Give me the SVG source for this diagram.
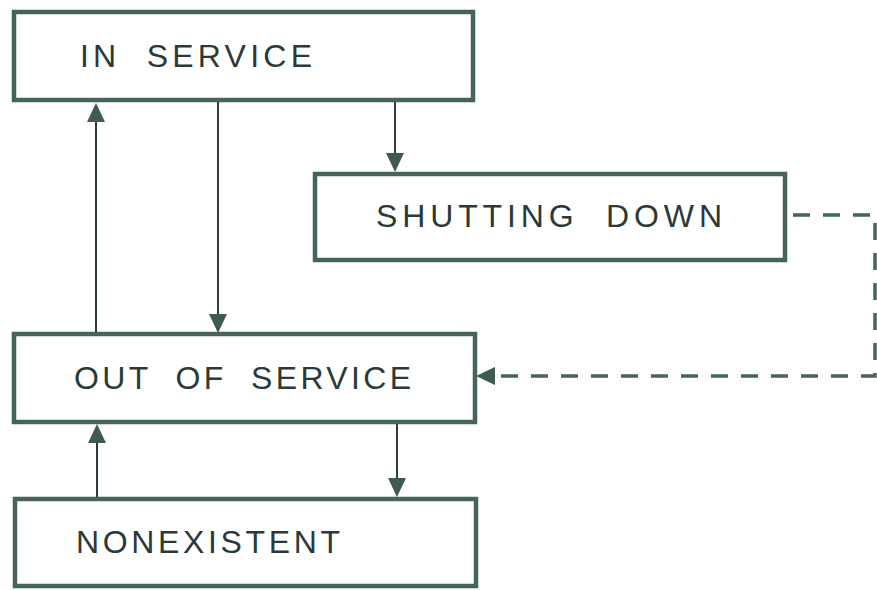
<svg xmlns="http://www.w3.org/2000/svg" width="877" height="590" viewBox="0 0 877 590">
<style>
.box{fill:#ffffff;stroke:#46645c;stroke-width:4.5}
.lbl{font-family:"Liberation Sans","DejaVu Sans",sans-serif;font-size:32px;fill:#2b3a36;white-space:pre}
.con{fill:none;stroke:#2f3d39;stroke-width:2}
.dash{fill:none;stroke:#46645c;stroke-width:3.5;stroke-dasharray:17 13}
</style>
<defs>
<marker id="ah" markerUnits="userSpaceOnUse" markerWidth="20" markerHeight="18" refX="0" refY="9" orient="auto">
<path d="M0,0 L19,9 L0,18 z" fill="#3f5a53"/>
</marker>
</defs>
<rect width="877" height="590" fill="#ffffff"/>
<g id="in-service">
<rect class="box" x="14" y="12" width="459" height="88"/>
<text class="lbl" xml:space="preserve" x="80" y="67" textLength="232" lengthAdjust="spacing">IN  SERVICE</text>
</g>
<g id="shutting-down">
<rect class="box" x="315" y="174" width="470" height="86"/>
<text class="lbl" xml:space="preserve" x="376" y="227" textLength="346" lengthAdjust="spacing">SHUTTING  DOWN</text>
</g>
<g id="out-of-service">
<rect class="box" x="14" y="334" width="461" height="88"/>
<text class="lbl" xml:space="preserve" x="74" y="389" textLength="337" lengthAdjust="spacing">OUT  OF  SERVICE</text>
</g>
<g id="nonexistent">
<rect class="box" x="15" y="499" width="461" height="87"/>
<text class="lbl" xml:space="preserve" x="76" y="553" textLength="264" lengthAdjust="spacing">NONEXISTENT</text>
</g>
<g id="connectors">
<path class="con" d="M96,332 V122" marker-end="url(#ah)"/>
<path class="con" d="M218,102 V314" marker-end="url(#ah)"/>
<path class="con" d="M395,102 V153" marker-end="url(#ah)"/>
<path class="con" d="M97,497 V443" marker-end="url(#ah)"/>
<path class="con" d="M397,424 V478" marker-end="url(#ah)"/>
<path class="dash" d="M793,215 H875 V376 H495" marker-end="url(#ah)"/>
</g>
</svg>
